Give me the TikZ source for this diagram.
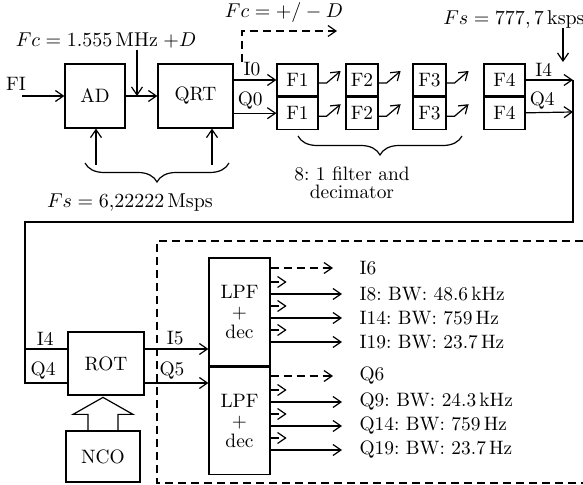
\documentclass[tikz,border=0pt]{standalone}
\usepackage{amsmath, amssymb}
\usepackage{tikz}
\usetikzlibrary{arrows.meta, calc, positioning, decorations.pathreplacing}
\frenchspacing

\begin{document}
\begin{tikzpicture}[x=0.5pt, y=-0.5pt, line width=0.6pt,
    every node/.style={font=\fontsize{9.7}{11}\selectfont},
    arr/.style={-{Straight Barb[length=4pt, width=5.5pt]}},
    dashline/.style={dash pattern=on 4pt off 2.5pt},
    block/.style={draw, inner sep=0pt, minimum height=32pt},
    half/.style={draw, inner sep=0pt, minimum height=16pt},
    lbl/.style={anchor=west, inner sep=0pt},
    divider/.style={line width=1.3pt},
    brc/.style={decorate, decoration={brace, amplitude=9.5pt}}]
        \useasboundingbox (0,0) rectangle (583,485);

        % Front end
        \node (fi) at (16,84) {FI};
        \coordinate (fiin) at (22,96);
        \node[block, minimum width=30pt] (ad) at (95,96) {AD};
        \node[block, minimum width=37.5pt] (qrt) at (195.5,96) {QRT};
        \node (fc) at (106,41) {$Fc = 1.555\,\mathrm{MHz}\;{+}D$};
        \coordinate (fcin) at (137,50);
        \node (fsm) at (130,203) {$Fs = 6{,}22222\,\mathrm{Msps}$};
        \coordinate (fsa) at (96,165);
        \coordinate (fsq) at (212,165);

        \draw[arr] (fiin) -- (ad.west);
        \draw[arr] (ad) -- (qrt);
        \draw[arr] (fcin) -- (fcin |- ad.east);
        \draw[arr] (fsa) -- (fsa |- ad.south);
        \draw[arr] (fsq) -- (fsq |- qrt.south);
        \draw[brc] (229,163) -- (85,163);

        % Filter and decimator chain
        \node[half, minimum width=20.5pt] (f1i) at (297.5,80) {F1};
        \node[half, minimum width=20.5pt, below=0pt of f1i] (f1q) {F1};
        \node[half, minimum width=16pt] (f2i) at (362,80) {F2};
        \node[half, minimum width=16pt, below=0pt of f2i] (f2q) {F2};
        \node[half, minimum width=16.5pt] (f3i) at (429.5,80) {F3};
        \node[half, minimum width=16.5pt, below=0pt of f3i] (f3q) {F3};
        \node[half, minimum width=20.5pt] (f4i) at (504.5,80) {F4};
        \node[half, minimum width=20.5pt, below=0pt of f4i] (f4q) {F4};
        \foreach \b in {f1i, f2i, f3i, f4i}
            \draw[divider] (\b.south west) -- (\b.south east);
        \foreach \b in {f1i, f1q, f2i, f2q, f3i, f3q}
            \draw[arr] ($(\b.east)+(0,3)$) -- ++(8,0) -- ++(14,-12);

        \draw[arr] (qrt.east |- f1i) -- (f1i) node[above, inner sep=1.5pt, pos=0.43] {I0};
        \draw[arr] (qrt.east |- f1q) -- (f1q) node[above, inner sep=1.5pt, pos=0.39] {Q0};
        \node (fcd) at (284,13) {$Fc = +/-D$};
        \coordinate (dsh) at (242,62);
        \coordinate (dshend) at (337,31);
        \draw[arr, dashline] (dsh) |- (dshend);

        \draw[brc] (462,136) -- (298,136);
        \node[align=center] (dec) at (352,183) {8: 1 filter and\\[-2pt]decimator};

        \node (fsk) at (514,20) {$Fs = 777,7\,\mathrm{ksps}$};
        \coordinate (fskin) at (563,28);
        \coordinate (fskend) at (563,62);
        \draw[arr] (fskin) -- (fskend);

        \coordinate (i4end) at (573,80);
        \coordinate (q4end) at (573,112);
        \draw[arr] (f4i) -- (i4end) node[above, inner sep=1.5pt, pos=0.38] {I4};
        \draw[arr] (f4q) -- (q4end) node[above, inner sep=1.5pt, pos=0.35] {Q4};

        % Rotation
        \node[block, minimum width=38pt, minimum height=31.5pt] (rot) at (106,363.5) {ROT};
        \node[block, minimum width=37pt, minimum height=25.5pt] (nco) at (103,456.5) {NCO};
        \draw ($(nco.north)+(-15,0)$) -- ++(0,-16) -- ++(-15,0) -- ++(30,-17)
            -- ++(30,17) -- ++(-15,0) -- ++(0,16);
        \coordinate (turn) at (25,222);
        \coordinate (i4in) at (68,349);
        \coordinate (q4in) at (68,383);
        \draw (i4end) |- (turn) -- (turn |- q4in) -- (q4in);
        \draw (turn |- i4in) -- (i4in) node[above, inner sep=1.5pt, pos=0.47] {I4};
        \path (turn |- q4in) -- (q4in) node[above, inner sep=1.5pt, pos=0.42] {Q4};

        % Filter bank
        \draw[dashline] (583,241) -- (157,241) -- (157,483) -- (583,483);
        \node[half, minimum width=30.5pt, minimum height=54pt, align=center] (lpfi) at (239.5,312)
            {LPF\\[-1pt]+\\[-1pt]dec};
        \node[half, minimum width=30.5pt, minimum height=53.5pt, align=center, below=0pt of lpfi] (lpfq)
            {LPF\\[-1pt]+\\[-1pt]dec};
        \draw[divider] (lpfi.south west) -- (lpfi.south east);
        \draw[arr] (rot.east |- i4in) -- (lpfi.west |- i4in) node[above, inner sep=1.5pt, pos=0.48] {I5};
        \draw[arr] (rot.east |- q4in) -- (lpfq.west |- q4in) node[above, inner sep=1.5pt, pos=0.43] {Q5};

        \node[lbl] (i6) at (359,268) {I6};
        \node[lbl] (i8) at (359,294) {I8: BW: 48.6\,kHz};
        \node[lbl] (i14) at (359,318) {I14: BW: 759\,Hz};
        \node[lbl] (i19) at (359,342) {I19: BW: 23.7\,Hz};
        \node[lbl] (q6) at (359,376) {Q6};
        \node[lbl] (q9) at (359,402) {Q9: BW: 24.3\,kHz};
        \node[lbl] (q14) at (359,426) {Q14: BW: 759\,Hz};
        \node[lbl] (q19) at (359,450) {Q19: BW: 23.7\,Hz};

        \draw[arr, dashline] (lpfi.east |- i6) -- ([xshift=-13pt]i6.west);
        \draw[arr, dashline] (lpfq.east |- q6) -- ([xshift=-13pt]q6.west);
        \foreach \o in {i8, i14, i19} {
            \draw[arr] (lpfi.east |- \o) -- ([xshift=-8.5pt]\o.west);
            \draw[arr, dashline] ($(lpfi.east |- \o)+(0,-12)$) -- ++(16,0);
        }
        \foreach \o in {q9, q14, q19} {
            \draw[arr] (lpfq.east |- \o) -- ([xshift=-8.5pt]\o.west);
            \draw[arr, dashline] ($(lpfq.east |- \o)+(0,-12)$) -- ++(16,0);
        }
    \end{tikzpicture}
\end{document}
